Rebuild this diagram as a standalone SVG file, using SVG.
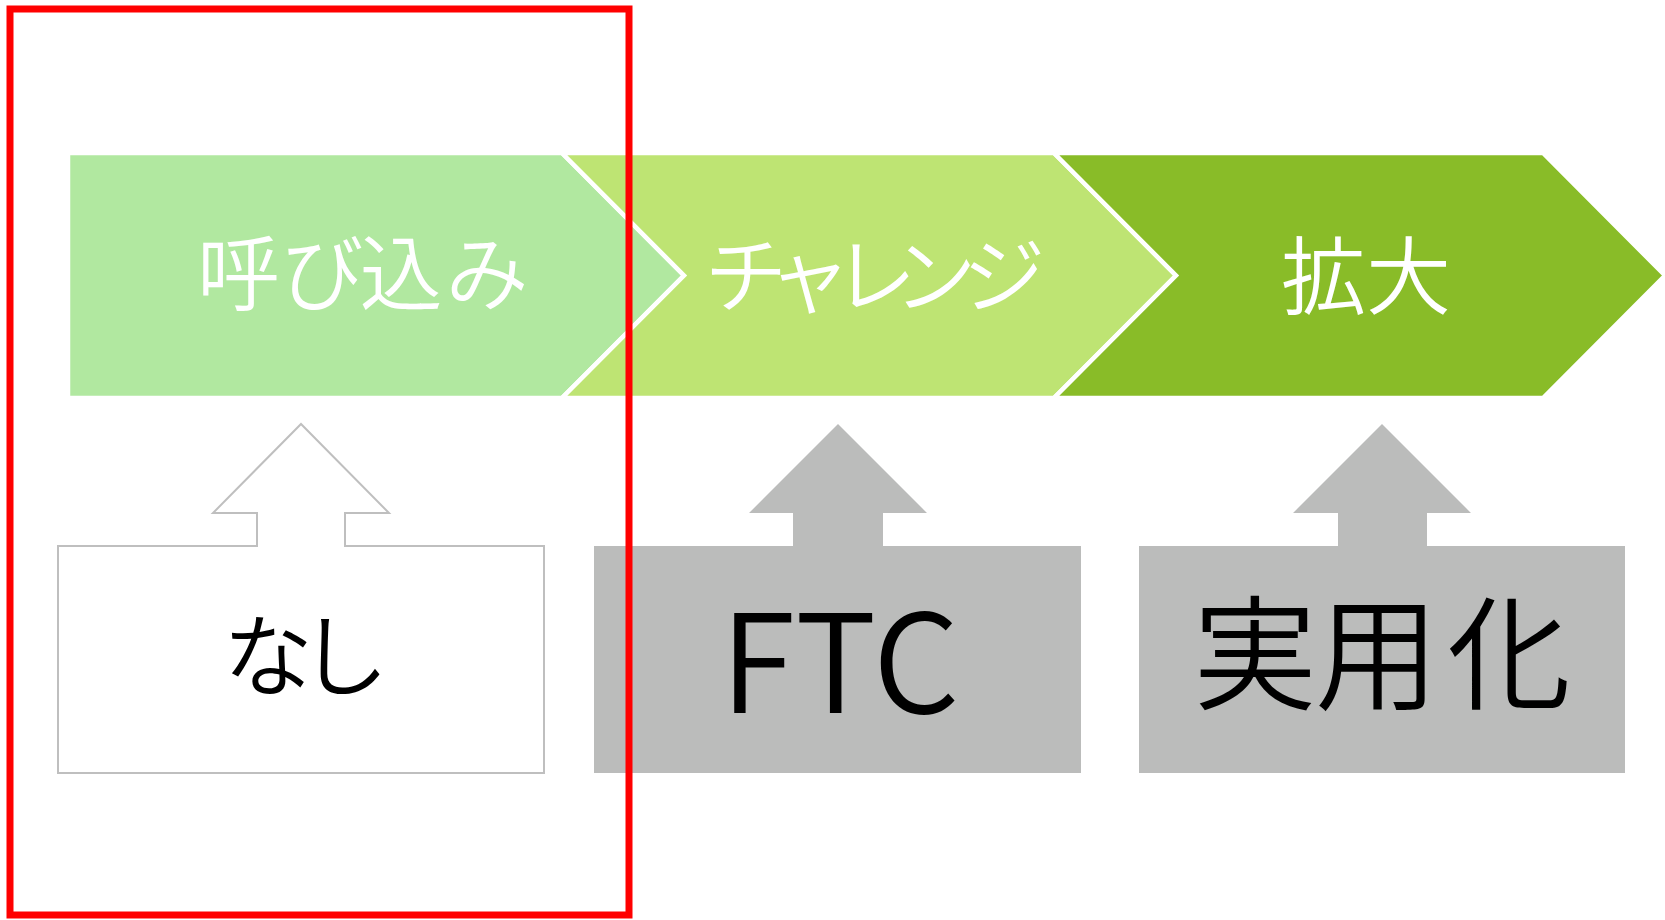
<svg xmlns="http://www.w3.org/2000/svg" width="1665" height="920" viewBox="0 0 1665 920">
<style>
.chev{stroke:#FFFFFF;stroke-width:4.5;stroke-linejoin:miter}
.ct{font-family:"Noto Sans CJK JP","Noto Sans CJK SC",sans-serif;font-weight:350;fill:#FFFFFF;text-anchor:middle;dominant-baseline:central}
.bt{font-family:"Noto Sans CJK JP","Noto Sans CJK SC",sans-serif;font-weight:350;fill:#000000;text-anchor:middle;dominant-baseline:central}
.callg{fill:#BBBCBB;stroke:none}
.callw{fill:#FFFFFF;stroke:#BFBFBF;stroke-width:2}
</style>
<rect x="0" y="0" width="1665" height="920" fill="#FFFFFF"/>
<g id="stage1">
<polygon class="chev" fill="#B1E8A0" points="68,153 562,153 684,275.5 562,398 68,398"/>
<text class="ct" x="238.5 322 401 487" y="268" font-size="83">呼び込み</text>
</g>
<g id="stage2">
<polygon class="chev" fill="#BEE473" points="562,153 1054,153 1176,275.5 1054,398 562,398 684,275.5"/>
<text class="ct" x="746 809.5 875 935 1004" y="270" font-size="83">チャレンジ</text>
</g>
<g id="stage3">
<polygon class="chev" fill="#89BC28" points="1054,153 1543,153 1665,275.5 1543,398 1054,398 1176,275.5"/>
<text class="ct" x="1366" y="270" font-size="85">拡大</text>
</g>
<g id="nashi">
<path class="callw" d="M58,546 H257 V513 H213 L301,424 L389,513 H345 V546 H544 V773 H58 Z"/>
<text class="bt" x="268 344" y="650" font-size="90">なし</text>
</g>
<g id="ftc">
<path class="callg" d="M594,546 H793 V513 H749 L838,424 L927,513 H883 V546 H1081 V773 H594 Z"/>
<text class="bt" x="840" y="653" font-size="137">FTC</text>
</g>
<g id="jitsuyouka">
<path class="callg" d="M1139,546 H1338 V513 H1293 L1382,424 L1471,513 H1427 V546 H1625 V773 H1139 Z"/>
<text class="bt" x="1255 1377 1509" y="646" font-size="124">実用化</text>
</g>
<g id="connectors"></g>
<rect id="highlight" x="10" y="9" width="619" height="906" fill="none" stroke="#FF0000" stroke-width="7"/>
</svg>
